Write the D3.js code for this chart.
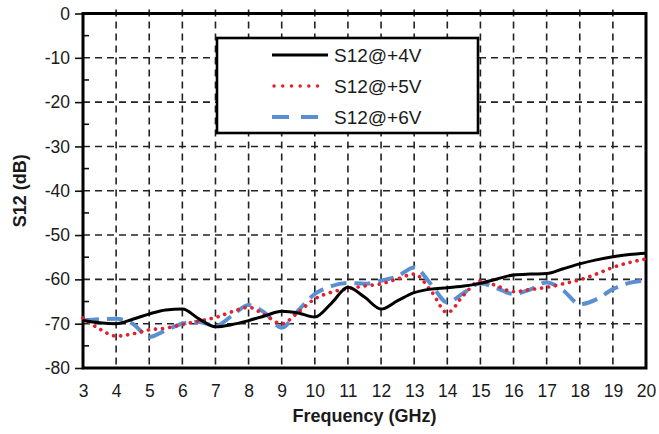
<!DOCTYPE html>
<html>
<head>
<meta charset="utf-8">
<script src="https://cdn.jsdelivr.net/npm/d3@7"></script>
<style>
  html, body { margin: 0; padding: 0; background: #fff; }
  svg { display: block; }
  text { font-family: "Liberation Sans", Arial, sans-serif; fill: #1a1a1a; }
</style>
</head>
<body>
<svg id="chart" width="659" height="434"></svg>
<script>
const freq = [3,3.5,4,4.5,5,5.5,6,6.5,7,7.5,8,8.5,9,9.5,10,10.5,11,11.5,12,12.5,13,13.5,14,14.5,15,15.5,16,16.5,17,17.5,18,18.5,19,19.5,20];
const s12_4V = [-69.3,-69.8,-70.0,-69.0,-67.8,-66.9,-66.7,-68.9,-70.7,-70.2,-69.3,-68.2,-67.2,-67.6,-68.5,-65.4,-61.8,-64.0,-66.7,-64.8,-63.0,-62.2,-61.9,-61.5,-60.9,-59.9,-59.0,-58.8,-58.7,-57.6,-56.5,-55.6,-54.9,-54.4,-54.1];
const s12_5V = [-68.7,-71.2,-72.8,-72.3,-71.4,-71.0,-70.2,-69.4,-68.6,-67.3,-66.3,-68.1,-70.0,-67.4,-64.4,-62.9,-62.1,-61.5,-61.0,-59.9,-58.8,-62.5,-67.5,-63.5,-60.3,-61.5,-62.8,-62.3,-61.8,-61.0,-60.1,-58.8,-57.3,-56.2,-55.4];
const s12_6V = [-69.3,-69.0,-68.9,-70.0,-73.0,-71.5,-70.0,-69.6,-70.5,-68.2,-65.8,-67.6,-70.9,-67.0,-63.3,-61.5,-60.8,-61.0,-60.3,-59.3,-57.3,-61.0,-65.2,-63.0,-60.9,-62.0,-63.3,-62.3,-60.7,-62.5,-65.6,-64.5,-62.2,-60.8,-60.3];
const xTicks = [3,4,5,6,7,8,9,10,11,12,13,14,15,16,17,18,19,20];
const yTicks = [0,-10,-20,-30,-40,-50,-60,-70,-80];
const yMinor = [-5,-15,-25,-35,-45,-55,-65,-75];
const seriesNames = ["S12@+4V","S12@+5V","S12@+6V"];

const svg = d3.select("#chart");
const L = 83, R = 646, T = 13.5, B = 368;
const x = d3.scaleLinear().domain([3,20]).range([L,R]);
const y = d3.scaleLinear().domain([-80,0]).range([B,T]);

// grid
const grid = svg.append("g").attr("stroke","#222").attr("stroke-width",1.6).attr("stroke-dasharray","7,5");
grid.selectAll(".vg").data(xTicks.slice(1,-1)).join("line")
  .attr("x1",d=>x(d)).attr("x2",d=>x(d)).attr("y1",T-4).attr("y2",B);
grid.selectAll(".hg").data(yTicks.slice(1,-1)).join("line")
  .attr("x1",L).attr("x2",R).attr("y1",d=>y(d)).attr("y2",d=>y(d));

// y axis
const yAxis = d3.axisLeft(y).tickValues(yTicks).tickSize(8).tickPadding(5).tickFormat(d=>String(d));
const gy = svg.append("g").attr("transform",`translate(${L},0)`).call(yAxis);
gy.select(".domain").remove();
gy.selectAll(".tick line").attr("stroke","#111").attr("stroke-width",1.6);
gy.selectAll(".tick text").style("font-size","17.5px").attr("fill","#1a1a1a").attr("font-family","Liberation Sans, Arial, sans-serif");
// minor ticks inside
svg.append("g").selectAll("line").data(yMinor).join("line")
  .attr("x1",L).attr("x2",L+6).attr("y1",d=>y(d)).attr("y2",d=>y(d))
  .attr("stroke","#111").attr("stroke-width",1.6);

// x axis
const xAxis = d3.axisBottom(x).tickValues(xTicks).tickSize(0).tickPadding(17).tickFormat(d=>String(d));
const gx = svg.append("g").attr("transform",`translate(0,${B})`).call(xAxis);
gx.select(".domain").remove();
gx.selectAll(".tick text").style("font-size","17.5px").attr("fill","#1a1a1a").attr("font-family","Liberation Sans, Arial, sans-serif");

// frame
svg.append("rect").attr("x",L).attr("y",T).attr("width",R-L).attr("height",B-T)
  .attr("fill","none").attr("stroke","#000").attr("stroke-width",3);

// lines
const line = d3.line().x((d,i)=>x(freq[i])).y(d=>y(d)).curve(d3.curveMonotoneX);
const plot = svg.append("g");
plot.append("path").datum(s12_6V).attr("d",line).attr("fill","none")
  .attr("stroke","#5b8fd4").attr("stroke-width",4).attr("stroke-dasharray","16,8");
plot.append("path").datum(s12_5V).attr("d",line).attr("fill","none")
  .attr("stroke","#e3202b").attr("stroke-width",3.6).attr("stroke-linecap","round").attr("stroke-dasharray","0.1,7");
plot.append("path").datum(s12_4V).attr("d",line).attr("fill","none")
  .attr("stroke","#000").attr("stroke-width",3);

// legend
const lg = svg.append("g");
lg.append("rect").attr("x",217).attr("y",38).attr("width",261).attr("height",95)
  .attr("fill","#fff").attr("stroke","#000").attr("stroke-width",2.6);
const rows = [55,86,117];
lg.append("line").attr("x1",272).attr("x2",328).attr("y1",rows[0]).attr("y2",rows[0])
  .attr("stroke","#000").attr("stroke-width",3.2);
lg.append("line").attr("x1",274).attr("x2",326).attr("y1",rows[1]).attr("y2",rows[1])
  .attr("stroke","#e3202b").attr("stroke-width",3.4).attr("stroke-linecap","round").attr("stroke-dasharray","0.1,8.6");
lg.append("line").attr("x1",272).attr("x2",318).attr("y1",rows[2]).attr("y2",rows[2])
  .attr("stroke","#5b8fd4").attr("stroke-width",4).attr("stroke-dasharray","17,12");
lg.selectAll("text.lt").data(seriesNames).join("text")
  .attr("x",334).attr("y",(d,i)=>rows[i]+7).style("font-size","19px").text(d=>d);

// axis titles
svg.append("text").attr("x",(L+R)/2).attr("y",422).attr("text-anchor","middle")
  .style("font-size","18px").style("font-weight","bold").text("Frequency (GHz)");
svg.append("text").attr("transform",`translate(26,${(T+B)/2}) rotate(-90)`).attr("text-anchor","middle")
  .style("font-size","18px").style("font-weight","bold").text("S12 (dB)");
</script>
</body>
</html>
